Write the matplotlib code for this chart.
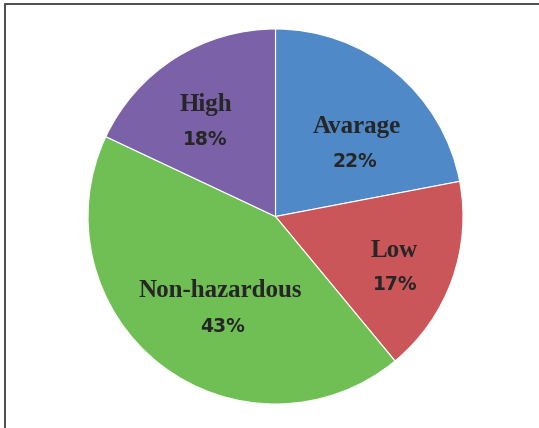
import matplotlib
matplotlib.use("Agg")
import matplotlib.pyplot as plt
from matplotlib.patches import Rectangle

# Hazard level shares (percent), clockwise from 12 o'clock
categories = ["Avarage", "Low", "Non-hazardous", "High"]
shares = [22, 17, 43, 18]
colors = ["#4F89C8", "#CA5659", "#6FBF55", "#7A61A8"]

# Label baselines (name, percent) in axes data units
name_pos = [(0.435, 0.445), (0.632, -0.216), (-0.296, -0.429), (-0.371, 0.563)]
pct_pos = [(0.421, 0.264), (0.637, -0.392), (-0.282, -0.616), (-0.373, 0.381)]

W, H = 539, 428
fig = plt.figure(figsize=(W / 100, H / 100), dpi=100)

cx, cy, r = 275.5, 216.5, 187.5
ax = fig.add_axes([(cx - r) / W, (H - cy - r) / H, 2 * r / W, 2 * r / H])
ax.pie(shares, colors=colors, startangle=90, counterclock=False, radius=1,
       wedgeprops=dict(edgecolor="white", linewidth=0.8))
ax.set_xlim(-1, 1)
ax.set_ylim(-1, 1)
ax.set_aspect("equal")
ax.axis("off")

for name, share, (nx, ny), (px, py) in zip(categories, shares, name_pos, pct_pos):
    ax.text(nx, ny, name, ha="center", va="baseline", fontsize=18,
            fontweight="bold", family="Liberation Serif", color="#262626")
    ax.text(px, py, f"{share}%", ha="center", va="baseline", fontsize=13.5,
            fontweight="bold", family="DejaVu Sans", color="#262626")

# Chart frame (extends past the right and bottom edges)
fig.patches.append(Rectangle((4.5 / W, -0.05), 1.1, (H - 4.0) / H + 0.05,
                             transform=fig.transFigure, fill=False,
                             edgecolor="#404040", linewidth=1.3))

fig.savefig("out.png", dpi=100, facecolor="white")
